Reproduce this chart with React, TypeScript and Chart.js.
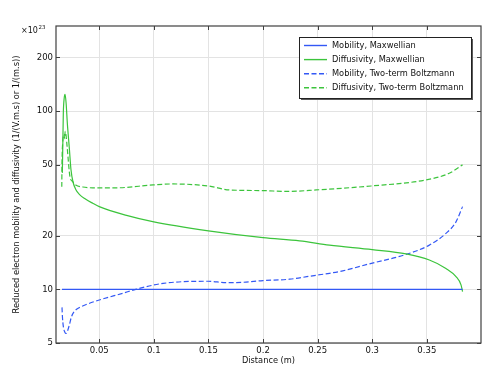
import React, { useEffect, useRef } from 'react';
import { Chart, registerables } from 'chart.js';

Chart.register(...registerables);

const FONT = '"DejaVu Sans", sans-serif';
const BLUE = '#3358f5';
const GREEN = '#3cc43c';
const TEXT = '#111111';

// Series labels
const seriesLabels = [
  'Mobility, Maxwellian',
  'Diffusivity, Maxwellian',
  'Mobility, Two-term Boltzmann',
  'Diffusivity, Two-term Boltzmann',
];

// Mobility, Maxwellian (constant)
const mobMaxX = [0.0159, 0.1, 0.2, 0.3, 0.3827];
const mobMaxY = [10, 10, 10, 10, 10];

// Diffusivity, Maxwellian
const diffMaxX = [0.0162, 0.0166, 0.0171, 0.0179, 0.0187, 0.0197, 0.0208, 0.0226, 0.0241, 0.026, 0.0285, 0.032, 0.037, 0.044, 0.05, 0.075, 0.1, 0.15, 0.2, 0.2335, 0.2608, 0.3, 0.331, 0.3523, 0.3675, 0.3767, 0.3813, 0.3827];
const diffMaxY = [45, 63, 97, 118, 124, 110, 85, 62, 47, 40, 36.3, 34, 32.2, 30.4, 29.1, 26, 23.9, 21.3, 19.5, 18.7, 17.7, 16.7, 15.8, 14.6, 13.1, 11.8, 10.6, 9.7];

// Mobility, Two-term Boltzmann
const mobTTX = [0.0159, 0.0163, 0.0171, 0.0185, 0.0196, 0.021, 0.0226, 0.0245, 0.027, 0.031, 0.04, 0.05, 0.0714, 0.0835, 0.1085, 0.1496, 0.1665, 0.1816, 0.2, 0.2243, 0.2487, 0.2609, 0.273, 0.2974, 0.331, 0.3523, 0.3675, 0.3767, 0.3827];
const mobTTY = [7.92, 7.0, 6.2, 5.75, 5.66, 5.85, 6.3, 7.0, 7.5, 7.85, 8.3, 8.71, 9.5, 10.0, 10.8, 11.1, 10.9, 10.95, 11.2, 11.4, 12.0, 12.3, 12.7, 13.9, 15.7, 17.7, 20.6, 23.9, 29.1];

// Diffusivity, Two-term Boltzmann
const diffTTX = [0.0157, 0.0159, 0.0165, 0.0177, 0.0183, 0.0188, 0.0196, 0.0207, 0.0232, 0.0257, 0.0285, 0.035, 0.044, 0.065, 0.0994, 0.1176, 0.1496, 0.1695, 0.2, 0.2213, 0.2487, 0.299, 0.3493, 0.3706, 0.3827];
const diffTTY = [37.6, 51, 66, 74, 70, 77, 73, 62, 42.8, 40.2, 38.5, 37.5, 37.1, 37.1, 38.5, 39.0, 38.0, 36.1, 35.8, 35.4, 36.1, 38.0, 41.1, 44.8, 49.9];

// Axis ticks
const xTicks = [0.05, 0.1, 0.15, 0.2, 0.25, 0.3, 0.35];
const yTicks = [5, 10, 20, 50, 100, 200];

const toPts = (xs: number[], ys: number[]) => xs.map((x, i) => ({ x, y: ys[i] }));

const decorPlugin = {
  id: 'decor',
  afterDatasetsDraw(chart: any) {
    const { ctx, chartArea: a, scales } = chart;
    ctx.save();
    ctx.strokeStyle = '#404040';
    ctx.lineWidth = 1.2;
    ctx.strokeRect(a.left, a.top, a.right - a.left, a.bottom - a.top);
    ctx.lineWidth = 1;
    ctx.beginPath();
    const L = 4;
    for (const v of xTicks) {
      const px = Math.round(scales.x.getPixelForValue(v)) + 0.5;
      ctx.moveTo(px, a.bottom); ctx.lineTo(px, a.bottom - L);
      ctx.moveTo(px, a.top); ctx.lineTo(px, a.top + L);
    }
    for (const v of yTicks) {
      const py = Math.round(scales.y.getPixelForValue(v)) + 0.5;
      ctx.moveTo(a.left, py); ctx.lineTo(a.left + L, py);
      ctx.moveTo(a.right, py); ctx.lineTo(a.right - L, py);
    }
    ctx.stroke();
    ctx.restore();
  },
  afterDraw(chart: any) {
    const { ctx, chartArea: a } = chart;
    ctx.save();
    ctx.fillStyle = TEXT;
    ctx.textBaseline = 'alphabetic';
    ctx.textAlign = 'left';
    ctx.font = `8px ${FONT}`;
    ctx.fillText('\u00d710', 21, 33);
    const w = ctx.measureText('\u00d710').width;
    ctx.font = `5.5px ${FONT}`;
    ctx.fillText('23', 21 + w + 0.5, 29);

    const bx = a.right - 182, by = a.top + 11, bw = 172, bh = 61;
    ctx.fillStyle = '#5a5a5a';
    ctx.fillRect(bx + 2, by + 2, bw, bh);
    ctx.fillStyle = '#ffffff';
    ctx.fillRect(bx, by, bw, bh);
    ctx.strokeStyle = '#222';
    ctx.lineWidth = 1;
    ctx.strokeRect(bx + 0.5, by + 0.5, bw, bh);
    ctx.font = `8.25px ${FONT}`;
    ctx.textBaseline = 'middle';
    chart.data.datasets.forEach((ds: any, i: number) => {
      const y = by + 8.5 + i * 14.1;
      ctx.strokeStyle = ds.borderColor;
      ctx.lineWidth = 1.4;
      ctx.setLineDash(ds.borderDash || []);
      ctx.beginPath();
      ctx.moveTo(bx + 5, y);
      ctx.lineTo(bx + 28, y);
      ctx.stroke();
      ctx.setLineDash([]);
      ctx.fillStyle = TEXT;
      ctx.fillText(ds.label, bx + 33, y);
    });
    ctx.restore();
  },
};

export default function App() {
  const ref = useRef<HTMLCanvasElement | null>(null);
  useEffect(() => {
    if (!ref.current) return;
    const tickFont = { family: FONT, size: 8.5 };
    const dash = [5, 2.5];
    const chart = new Chart(ref.current, {
      type: 'line',
      data: {
        datasets: [
          { label: seriesLabels[0], data: toPts(mobMaxX, mobMaxY), borderColor: BLUE, borderWidth: 1.3 },
          { label: seriesLabels[1], data: toPts(diffMaxX, diffMaxY), borderColor: GREEN, borderWidth: 1.2, cubicInterpolationMode: 'monotone' },
          { label: seriesLabels[2], data: toPts(mobTTX, mobTTY), borderColor: BLUE, borderWidth: 1.2, borderDash: dash, cubicInterpolationMode: 'monotone' },
          { label: seriesLabels[3], data: toPts(diffTTX, diffTTY), borderColor: GREEN, borderWidth: 1.2, borderDash: dash, cubicInterpolationMode: 'monotone' },
        ] as any,
      },
      options: {
        animation: false,
        responsive: false,
        maintainAspectRatio: false,
        layout: { padding: { top: 26, right: 17, left: 0, bottom: 0 } },
        elements: { point: { radius: 0 } },
        plugins: { legend: { display: false }, tooltip: { enabled: false } },
        scales: {
          x: {
            type: 'linear',
            min: 0.0104,
            max: 0.3996,
            afterBuildTicks: (s: any) => { s.ticks = xTicks.map((v) => ({ value: v })); },
            afterFit: (s: any) => { s.height = 35; },
            grid: { color: '#e3e3e3', drawTicks: false },
            border: { display: false },
            ticks: { padding: 3, color: TEXT, font: tickFont, maxRotation: 0, callback: (v: any) => String(v) },
            title: { display: true, text: 'Distance (m)', color: TEXT, font: { family: FONT, size: 8.25 }, padding: { top: 0, bottom: 12 } },
          },
          y: {
            type: 'logarithmic',
            min: 5,
            max: 300,
            afterBuildTicks: (s: any) => { s.ticks = yTicks.map((v) => ({ value: v })); },
            afterFit: (s: any) => { s.width = 56; },
            grid: { color: '#e3e3e3', drawTicks: false },
            border: { display: false },
            ticks: { padding: 3, color: TEXT, font: tickFont, callback: (v: any) => String(v) },
            title: { display: true, text: 'Reduced electron mobility and diffusivity (1/(V.m.s) or 1/(m.s))', color: TEXT, font: { family: FONT, size: 8.25 }, padding: { top: 12, bottom: 0 } },
          },
        },
      },
      plugins: [decorPlugin],
    } as any);
    return () => chart.destroy();
  }, []);
  return (
    <div style={{ position: 'fixed', left: 0, top: 0, width: 498, height: 378, background: '#fff' }}>
      <canvas ref={ref} width={498} height={378} style={{ display: 'block', width: 498, height: 378 }} />
    </div>
  );
}
